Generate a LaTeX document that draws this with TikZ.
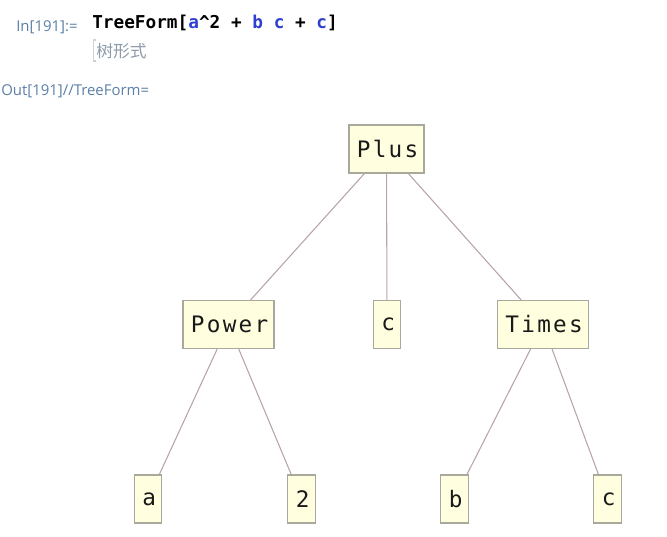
\documentclass[tikz,border=0pt]{standalone}
\usepackage{fontspec}
\setsansfont{Open Sans}
\newfontfamily\treefont[LetterSpace=10]{DejaVu Sans Mono}
\newfontfamily\codefont{DejaVu Sans Mono}
\newfontfamily\cjk{Noto Sans CJK SC}
\usepackage{tikz}
\usetikzlibrary{positioning}
\definecolor{BoxFill}{HTML}{FFFFE0}
\definecolor{BoxLine}{HTML}{A8A89C}
\definecolor{EdgeCol}{HTML}{B8A4A4}
\definecolor{LabelBlue}{HTML}{5B7FA6}
\definecolor{SymBlue}{HTML}{2F3FD0}
\definecolor{HintGray}{HTML}{8E9BAA}

\begin{document}
\begin{tikzpicture}[
  x=0.75pt, y=-0.75pt,
  lbl/.style={font=\sffamily\fontsize{11.2}{13}\selectfont, text=LabelBlue,
              inner sep=0pt, anchor=base west},
  tn/.style={rectangle, draw=BoxLine, fill=BoxFill, line width=0.9pt,
             font=\treefont\fontsize{17}{20}\selectfont, text=black!90,
             execute at end node={\kern-1.7pt},
             inner xsep=6pt, inner ysep=0pt, minimum height=36pt},
  edge/.style={draw=EdgeCol, line width=0.8pt},
]
\useasboundingbox (0,0) rectangle (667,536);
% input / output labels
\node[lbl] (inlbl) at (16,31.5) {In[191]:=};
\node[anchor=base west, inner sep=0pt, font=\codefont\bfseries\fontsize{13.3}{16}\selectfont]
     (code) at (92,28)
     {TreeForm[\textcolor{SymBlue}{a}\textasciicircum2 + \textcolor{SymBlue}{b} \textcolor{SymBlue}{c} + \textcolor{SymBlue}{c}]};
\node[anchor=base west, inner sep=0pt, text=HintGray, font=\cjk\fontsize{12.6}{15}\selectfont]
     (hint) at (96,57) {树形式};
\draw[HintGray!45, line width=0.8pt] (96,40) -- (93.5,40) -- (93.5,61) -- (96,61);
\node[lbl] (outlbl) at (1,95) {Out[191]//TreeForm=};
% tree
\node[tn] (plus)  at (386.5,149) {Plus};
\node[tn] (power) at (228.5,324.5) {Power};
\node[tn] (cmid)  at (387,324.5) {c};
\node[tn] (times) at (543,324.5) {Times};
\node[tn] (a)     at (148,499) {a};
\node[tn] (two)   at (301.5,499) {2};
\node[tn] (b)     at (454.5,499) {b};
\node[tn] (cbot)  at (607.5,499) {c};
\draw[edge] (plus) -- (power);
\draw[edge] (plus) -- (cmid);
\draw[edge] (plus) -- (times);
\draw[edge] (power) -- (a);
\draw[edge] (power) -- (two);
\draw[edge] (times) -- (b);
\draw[edge] (times) -- (cbot);
\end{tikzpicture}
\end{document}
